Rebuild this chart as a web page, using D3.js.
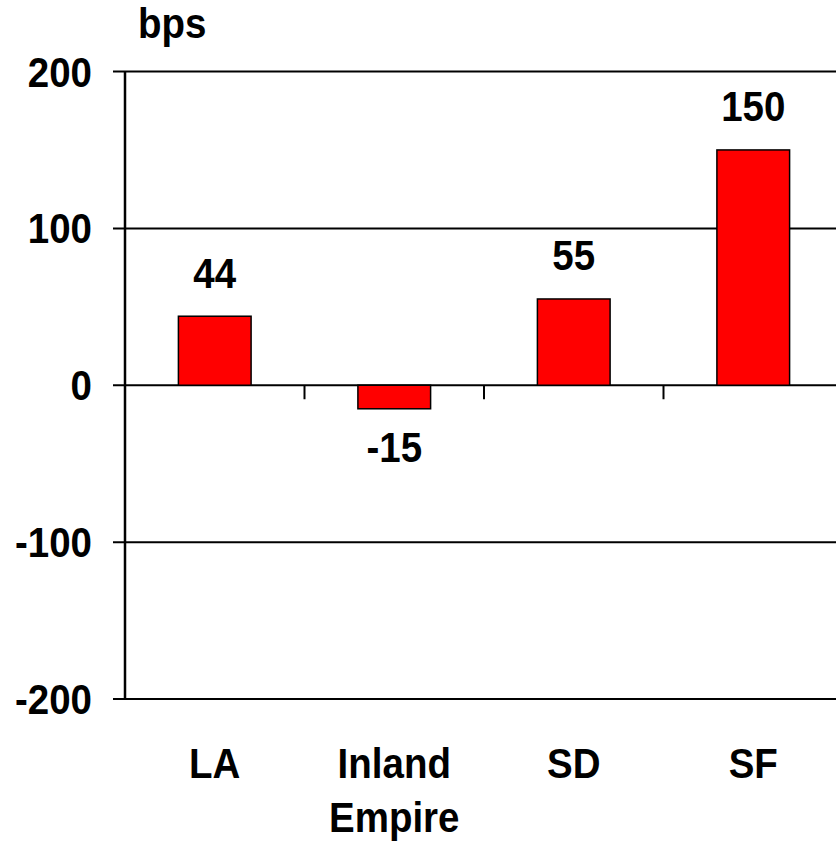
<!DOCTYPE html>
<html><head><meta charset="utf-8">
<script src="https://cdn.jsdelivr.net/npm/d3@7/dist/d3.min.js"></script>
<style>body{margin:0;background:#fff;} text{font-family:"Liberation Sans",Arial,sans-serif;font-weight:bold;fill:#000;}</style>
</head><body>
<svg id="c" width="836" height="843"></svg>
<script>
const categories = [["LA"], ["Inland", "Empire"], ["SD"], ["SF"]];
const values = [44, -15, 55, 150];
const yTicks = [200, 100, 0, -100, -200];
const unitLabel = "bps";

(function () {
const svg = d3.select("#c");
const mLeft = 125, mRight = 843, mTop = 71.5, mBottom = 699;
const FS = 38.5, SY = 1.09;
const x = d3.scaleBand().domain(d3.range(categories.length)).range([mLeft, mRight]).paddingInner(0).paddingOuter(0);
const y = d3.scaleLinear().domain([-200, 200]).range([mBottom, mTop]);
const bw = x.bandwidth() * 0.405;
const tf = (tx, ty) => `translate(${tx},${ty}) scale(1,${SY})`;

// gridlines
svg.append("g").selectAll("line").data(yTicks).join("line")
  .attr("x1", mLeft - 12).attr("x2", mRight)
  .attr("y1", d => y(d)).attr("y2", d => y(d))
  .attr("stroke", "#000").attr("stroke-width", 2);

// y tick labels
svg.append("g").selectAll("text").data(yTicks).join("text")
  .attr("transform", d => tf(92, y(d) + 15))
  .attr("text-anchor", "end").attr("font-size", FS)
  .text(d => d);

// category ticks on zero line
svg.append("g").selectAll("line").data(d3.range(1, categories.length)).join("line")
  .attr("x1", d => x(d)).attr("x2", d => x(d))
  .attr("y1", y(0)).attr("y2", y(0) + 14)
  .attr("stroke", "#000").attr("stroke-width", 2);

// bars
svg.append("g").selectAll("rect").data(values).join("rect")
  .attr("x", (d, i) => x(i) + x.bandwidth() / 2 - bw / 2)
  .attr("width", bw)
  .attr("y", d => y(Math.max(0, d)))
  .attr("height", d => Math.abs(y(d) - y(0)))
  .attr("fill", "#ff0000").attr("stroke", "#000").attr("stroke-width", 1.5);

// y axis line
svg.append("line").attr("x1", mLeft).attr("x2", mLeft).attr("y1", mTop).attr("y2", mBottom)
  .attr("stroke", "#000").attr("stroke-width", 2.5);

// value labels
svg.append("g").selectAll("text").data(values).join("text")
  .attr("transform", (d, i) => tf(x(i) + x.bandwidth() / 2, d >= 0 ? y(d) - 28.5 : y(d) + 53))
  .attr("text-anchor", "middle").attr("font-size", FS)
  .text(d => d);

// category labels
const cl = svg.append("g").selectAll("text").data(categories).join("text")
  .attr("transform", (d, i) => tf(x(i) + x.bandwidth() / 2, 778))
  .attr("text-anchor", "middle").attr("font-size", FS);
cl.selectAll("tspan").data(d => d).join("tspan")
  .attr("x", 0)
  .attr("dy", (d, i) => i === 0 ? 0 : 54 / SY)
  .text(d => d);

// unit label
svg.append("text").attr("transform", tf(138, 38)).attr("font-size", FS).text(unitLabel);
})();
</script>
</body></html>
